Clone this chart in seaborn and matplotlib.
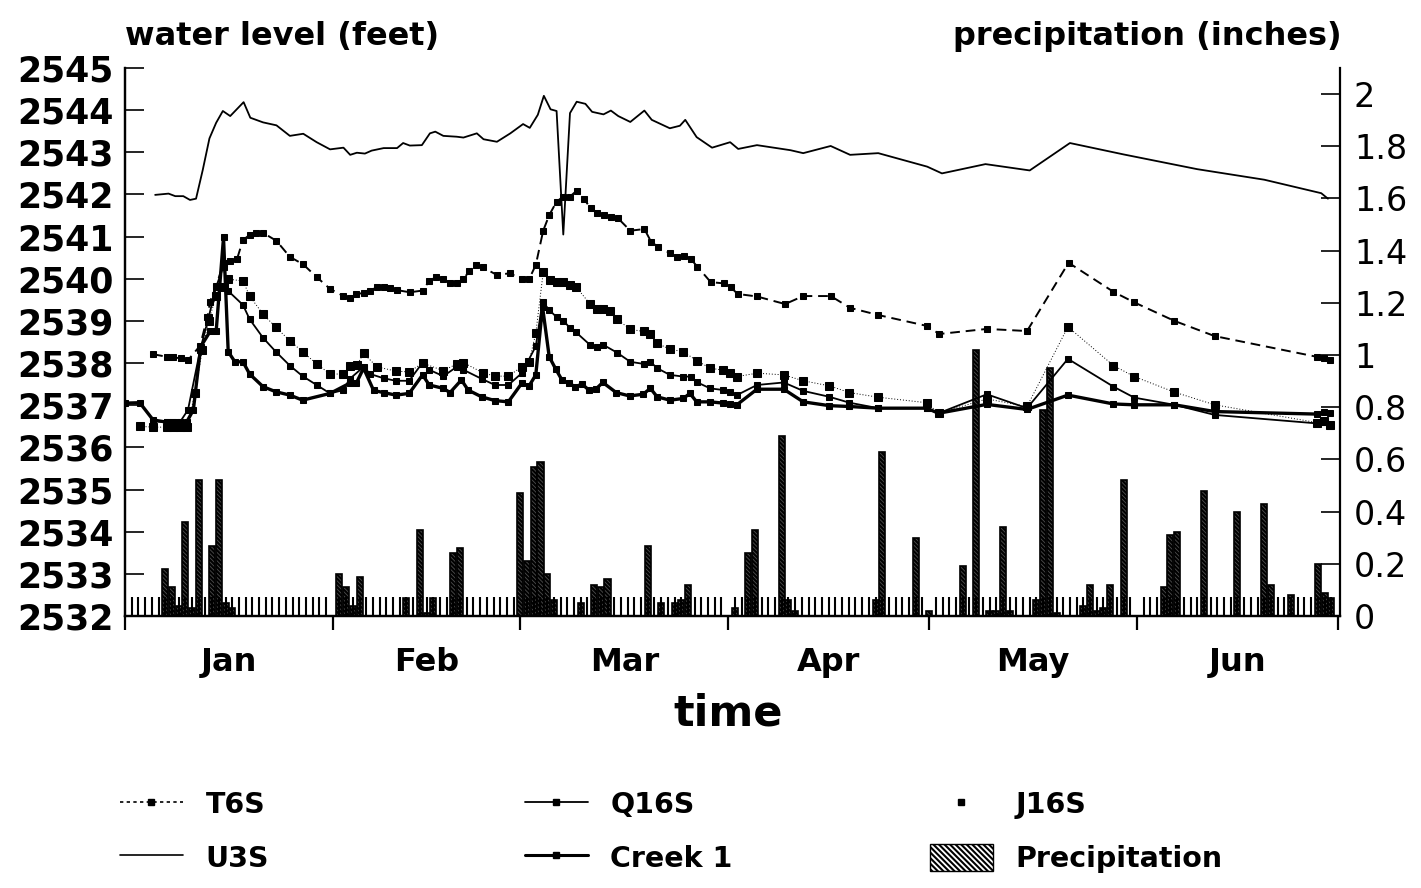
import numpy as np
import matplotlib
matplotlib.use("Agg")
import matplotlib.pyplot as plt
from matplotlib.lines import Line2D
from matplotlib.patches import Patch
import seaborn as sns

# ---------------- data (day of year, Jan 1 = 0) ----------------
u3s_day = [4.5, 6.5, 7.5, 8.7, 9.7, 10.6, 11.6, 12.6, 13.6, 14.6, 15.7, 17.7, 18.7, 20.6, 22.6,
           24.6, 26.6, 28.6, 30.6, 32.6, 33.6, 34.6, 35.8, 36.8, 38.6, 40.6, 41.5, 42.5, 44.3,
           45.5, 46.3, 47.5, 49.5, 50.5, 52.5, 53.5, 55.5, 57.5, 59.4, 60.4, 61.6, 62.5, 63.5,
           64.4, 65.4, 66.4, 67.4, 68.7, 69.7, 71.4, 72.5, 73.6, 75.4, 77.5, 78.6, 81.3, 82.8,
           83.6, 85.3, 87.6, 90.3, 91.5, 94.3, 99.3, 101.2, 105.3, 108.2, 112.4, 119.7, 121.9,
           123.1, 128.4, 135.0, 141.0, 149.0, 160.0, 170.0, 178.5, 179.5]
u3s_ft = [2541.99, 2542.02, 2541.96, 2541.96, 2541.87, 2541.90, 2542.58, 2543.33, 2543.70, 2543.98,
          2543.86, 2544.19, 2543.82, 2543.71, 2543.64, 2543.39, 2543.44, 2543.24, 2543.07, 2543.11,
          2542.94, 2542.99, 2542.97, 2543.04, 2543.10, 2543.10, 2543.22, 2543.16, 2543.17, 2543.45,
          2543.49, 2543.39, 2543.37, 2543.35, 2543.45, 2543.31, 2543.25, 2543.45, 2543.67, 2543.58,
          2543.89, 2544.34, 2544.02, 2543.98, 2541.05, 2543.93, 2544.20, 2544.15, 2543.96, 2543.90,
          2543.99, 2543.86, 2543.72, 2543.99, 2543.77, 2543.57, 2543.63, 2543.77, 2543.36, 2543.11,
          2543.24, 2543.08, 2543.17, 2543.05, 2542.98, 2543.15, 2542.94, 2542.98, 2542.66, 2542.50,
          2542.54, 2542.72, 2542.57, 2543.22, 2542.95, 2542.60, 2542.35, 2542.03, 2541.90]

t6s_day = [4.2, 6.2, 7.2, 8.3, 9.4, 11.2, 12.3, 12.7, 13.6, 14.7, 15.7, 16.7, 17.6, 18.6, 19.6,
           20.6, 22.6, 24.6, 26.6, 28.6, 30.6, 32.6, 33.5, 34.5, 35.6, 36.6, 37.6, 38.6, 39.6,
           40.6, 42.5, 44.4, 45.4, 46.4, 47.5, 48.5, 49.5, 50.5, 51.4, 52.4, 53.4, 55.5, 57.4,
           59.3, 60.3, 61.3, 62.4, 63.3, 64.4, 65.4, 66.4, 67.4, 68.5, 69.5, 70.5, 71.5, 72.5,
           73.6, 75.4, 77.5, 78.5, 79.5, 81.3, 82.4, 83.4, 84.4, 85.4, 87.4, 89.4, 90.4, 91.4,
           94.3, 98.5, 101.2, 105.3, 108.2, 112.4, 119.7, 121.5, 128.6, 134.6, 140.8, 147.5,
           150.6, 156.6, 162.6, 177.8, 178.9, 179.8]
t6s_ft = [2538.21, 2538.15, 2538.14, 2538.11, 2538.07, 2538.41, 2539.10, 2539.46, 2539.83, 2540.37,
          2540.41, 2540.46, 2540.92, 2541.04, 2541.08, 2541.09, 2540.90, 2540.52, 2540.34, 2540.04,
          2539.76, 2539.59, 2539.55, 2539.64, 2539.66, 2539.72, 2539.80, 2539.81, 2539.77, 2539.73,
          2539.68, 2539.72, 2539.95, 2540.04, 2539.99, 2539.91, 2539.89, 2539.99, 2540.19, 2540.33,
          2540.27, 2540.09, 2540.13, 2539.99, 2539.99, 2540.33, 2541.14, 2541.51, 2541.83, 2541.95,
          2541.95, 2542.09, 2541.89, 2541.67, 2541.55, 2541.51, 2541.47, 2541.43, 2541.14, 2541.18,
          2540.88, 2540.76, 2540.61, 2540.51, 2540.55, 2540.47, 2540.29, 2539.92, 2539.89, 2539.80,
          2539.64, 2539.58, 2539.40, 2539.59, 2539.59, 2539.31, 2539.14, 2538.88, 2538.69, 2538.81,
          2538.76, 2540.38, 2539.69, 2539.44, 2539.00, 2538.64, 2538.15, 2538.11, 2538.07]

j16s_day = [2.2, 4.2, 6.2, 7.2, 8.2, 9.2, 10.5, 11.5, 12.5, 13.6, 14.7, 15.4, 17.6, 18.6, 20.6,
            22.5, 24.6, 26.5, 28.6, 30.6, 32.6, 33.5, 34.6, 35.6, 37.6, 40.4, 42.4, 44.4, 47.5,
            49.5, 50.5, 53.4, 55.2, 57.2, 59.2, 60.3, 61.3, 62.4, 63.4, 64.4, 65.4, 66.4, 67.3,
            69.4, 70.4, 71.4, 72.4, 73.4, 75.4, 77.4, 78.4, 79.4, 81.3, 83.3, 85.3, 87.3, 89.3,
            90.3, 91.3, 94.3, 98.3, 101.2, 105.1, 108.1, 112.4, 119.6, 121.4, 128.6, 134.6, 140.7,
            147.5, 150.6, 156.6, 162.6, 177.8, 178.9, 179.8]
j16s_ft = [2536.50, 2536.48, 2536.48, 2536.48, 2536.48, 2536.48, 2537.30, 2538.30, 2539.00, 2539.60,
           2539.80, 2539.99, 2539.95, 2539.59, 2539.16, 2538.85, 2538.53, 2538.27, 2537.98, 2537.74,
           2537.74, 2537.93, 2537.95, 2538.23, 2537.91, 2537.81, 2537.79, 2538.00, 2537.82, 2537.98,
           2538.01, 2537.77, 2537.69, 2537.69, 2537.91, 2538.03, 2538.71, 2540.15, 2539.97, 2539.93,
           2539.93, 2539.85, 2539.81, 2539.40, 2539.28, 2539.28, 2539.24, 2539.04, 2538.80, 2538.75,
           2538.69, 2538.47, 2538.33, 2538.27, 2538.06, 2537.88, 2537.83, 2537.77, 2537.68, 2537.76,
           2537.72, 2537.58, 2537.46, 2537.30, 2537.19, 2537.06, 2536.81, 2537.15, 2536.97, 2538.86,
           2537.94, 2537.68, 2537.31, 2537.01, 2536.59, 2536.63, 2536.53]

q16s_day = [4.2, 6.2, 7.2, 8.2, 9.4, 11.2, 12.5, 13.6, 14.7, 15.4, 17.6, 18.6, 20.6, 22.5, 24.6,
            26.5, 28.6, 30.6, 32.6, 33.5, 35.6, 36.6, 38.6, 40.4, 42.4, 44.4, 45.4, 47.5, 49.5,
            50.5, 53.3, 55.2, 57.2, 59.2, 61.3, 62.3, 63.3, 64.4, 65.4, 66.4, 67.3, 69.4, 70.4,
            71.4, 73.4, 75.4, 77.4, 78.4, 79.4, 81.3, 83.3, 84.4, 85.3, 87.3, 89.3, 90.3, 91.3,
            94.3, 98.3, 101.2, 105.1, 108.1, 112.4, 119.6, 121.4, 128.6, 134.6, 140.7, 147.5,
            150.6, 156.6, 162.6, 177.8, 178.9, 179.8]
q16s_ft = [2536.62, 2536.60, 2536.60, 2536.60, 2536.89, 2538.30, 2539.10, 2539.81, 2540.29, 2539.71,
           2539.38, 2539.04, 2538.60, 2538.27, 2537.94, 2537.69, 2537.48, 2537.28, 2537.36, 2537.62,
           2537.91, 2537.74, 2537.64, 2537.58, 2537.58, 2538.01, 2537.84, 2537.69, 2537.91, 2537.84,
           2537.62, 2537.48, 2537.48, 2537.76, 2538.40, 2539.46, 2539.26, 2539.09, 2539.01, 2538.83,
           2538.73, 2538.43, 2538.38, 2538.43, 2538.25, 2538.03, 2537.98, 2538.03, 2537.88, 2537.72,
           2537.68, 2537.68, 2537.55, 2537.40, 2537.36, 2537.32, 2537.24, 2537.48, 2537.54, 2537.34,
           2537.20, 2537.06, 2536.93, 2536.93, 2536.81, 2537.26, 2536.93, 2538.10, 2537.44, 2537.18,
           2537.01, 2536.77, 2536.57, 2536.60, 2536.51]

creek_day = [0.0, 2.2, 4.2, 6.2, 7.2, 8.2, 9.2, 10.2, 11.3, 12.7, 13.6, 14.7, 15.4, 16.4, 17.6,
             18.6, 20.6, 22.5, 24.6, 26.5, 30.6, 33.5, 34.5, 35.6, 37.1, 38.6, 40.4, 42.4, 44.4,
             45.4, 47.5, 48.5, 50.2, 51.2, 53.2, 55.2, 57.2, 59.2, 60.3, 61.3, 62.3, 63.3, 64.3,
             65.2, 66.2, 67.2, 68.2, 69.3, 70.3, 71.3, 73.3, 75.3, 77.3, 78.4, 79.4, 81.3, 83.3,
             84.3, 85.3, 87.3, 89.3, 90.3, 91.3, 94.3, 98.3, 101.2, 105.1, 108.1, 112.4, 119.6,
             121.4, 128.6, 134.6, 140.7, 147.5, 150.6, 156.6, 162.6, 177.8, 178.9, 179.8]
creek_ft = [2537.05, 2537.06, 2536.65, 2536.60, 2536.60, 2536.60, 2536.60, 2536.89, 2538.39, 2538.75,
            2538.75, 2540.98, 2538.27, 2538.03, 2538.03, 2537.74, 2537.44, 2537.32, 2537.24, 2537.12,
            2537.28, 2537.52, 2537.52, 2537.88, 2537.35, 2537.30, 2537.24, 2537.28, 2537.72, 2537.48,
            2537.40, 2537.30, 2537.60, 2537.36, 2537.20, 2537.11, 2537.08, 2537.52, 2537.46, 2537.72,
            2539.34, 2538.15, 2537.85, 2537.60, 2537.52, 2537.44, 2537.50, 2537.35, 2537.39, 2537.54,
            2537.30, 2537.22, 2537.26, 2537.40, 2537.20, 2537.12, 2537.16, 2537.28, 2537.08, 2537.08,
            2537.05, 2537.03, 2537.01, 2537.38, 2537.38, 2537.08, 2536.99, 2536.97, 2536.93, 2536.93,
            2536.81, 2537.02, 2536.90, 2537.24, 2537.03, 2537.01, 2537.01, 2536.85, 2536.79, 2536.83,
            2536.81]

precip_day = [6, 7, 8, 9, 10, 11, 13, 14, 15, 16, 32, 33, 34, 35, 42, 44, 45, 46, 49, 50,
              59, 60, 61, 62, 63, 64, 68, 70, 71, 72, 78, 80, 82, 83, 84, 91, 93, 94, 98, 99,
              100, 112, 113, 118, 120, 125, 127, 129, 130, 131, 132, 136, 137, 138, 139, 143, 144,
              145, 146, 147, 149, 155, 156, 157, 161, 166, 170, 171, 174, 178, 179, 180]
precip_in = [0.18, 0.11, 0.04, 0.36, 0.03, 0.52, 0.27, 0.52, 0.05, 0.03, 0.16, 0.11, 0.04, 0.15,
             0.07, 0.33, 0.01, 0.07, 0.24, 0.26, 0.47, 0.21, 0.57, 0.59, 0.16, 0.06, 0.05, 0.12,
             0.11, 0.14, 0.27, 0.05, 0.05, 0.06, 0.12, 0.03, 0.24, 0.33, 0.69, 0.06, 0.02, 0.06,
             0.63, 0.30, 0.02, 0.19, 1.02, 0.02, 0.02, 0.34, 0.02, 0.06, 0.79, 0.95, 0.01, 0.04,
             0.12, 0.02, 0.03, 0.12, 0.52, 0.11, 0.31, 0.32, 0.48, 0.40, 0.43, 0.12, 0.08, 0.20,
             0.09, 0.07]

month_starts = [0, 31, 59, 90, 120, 151, 181]
month_names = ["Jan", "Feb", "Mar", "Apr", "May", "Jun"]
left_ticks = list(range(2532, 2546))
right_ticks = [0, 0.2, 0.4, 0.6, 0.8, 1.0, 1.2, 1.4, 1.6, 1.8, 2.0]

# ---------------- styling ----------------
sns.set_style("ticks")
plt.rcParams["font.family"] = ["DejaVu Sans"]
plt.rcParams["hatch.linewidth"] = 1.5
plt.rcParams["axes.linewidth"] = 1.6
for key in ["text.color", "axes.labelcolor", "xtick.color", "ytick.color", "axes.edgecolor"]:
    plt.rcParams[key] = "black"

fig = plt.figure(figsize=(14.21, 8.88), dpi=100)
ax = fig.add_axes([125 / 1421, 272 / 888, 1215 / 1421, 548 / 888])
ax2 = ax.twinx()
ax.set_zorder(ax2.get_zorder() + 1)
ax.patch.set_visible(False)

# precipitation bars
ax2.bar(precip_day, precip_in, width=0.9, color="0.3", edgecolor="black",
        hatch="\\\\\\\\\\\\\\\\", linewidth=1.2, zorder=2)

common = dict(ax=ax, color="black", estimator=None, sort=False, legend=False)
sns.lineplot(x=u3s_day, y=u3s_ft, lw=1.3, **common)
sns.lineplot(x=t6s_day, y=t6s_ft, lw=1.4, linestyle=(0, (5, 3)), marker="s", markersize=5,
             markeredgecolor="black", **common)
sns.lineplot(x=j16s_day, y=j16s_ft, lw=0.7, linestyle=(0, (1, 2)), marker="s", markersize=5.5,
             markeredgecolor="black", **common)
sns.lineplot(x=q16s_day, y=q16s_ft, lw=1.3, marker="s", markersize=4.5,
             markeredgecolor="black", **common)
sns.lineplot(x=creek_day, y=creek_ft, lw=2.4, marker="s", markersize=4.5,
             markeredgecolor="black", **common)

# axes limits and ticks
ax.set_xlim(0, 181.3)
ax.set_ylim(2532, 2545)
ax2.set_ylim(0, 2.1)

ax.set_xticks(month_starts)
ax.set_xticklabels([])
ax.set_xticks(np.arange(0, 182, 1), minor=True)
ax.tick_params(axis="x", which="major", direction="out", length=10, width=1.6)
ax.tick_params(axis="x", which="minor", direction="in", length=14, width=1.5)

ax.set_yticks(left_ticks)
ax.set_yticklabels([str(v) for v in left_ticks], fontsize=25, fontweight="bold")
ax.tick_params(axis="y", which="major", direction="in", length=14, width=1.2, pad=8)
ax.tick_params(axis="y", which="minor", left=False)

ax2.set_yticks(right_ticks)
ax2.set_yticklabels([f"{v:g}" for v in right_ticks], fontsize=24)
ax2.tick_params(axis="y", direction="in", length=14, width=1.2, pad=10)

for a in (ax, ax2):
    a.spines["top"].set_visible(False)
ax.spines["right"].set_visible(False)
ax.set_xlabel("")
ax.set_ylabel("")
ax2.set_ylabel("")

# month labels at mid-month
mids = [(month_starts[i] + month_starts[i + 1]) / 2 for i in range(6)]
sec = ax.secondary_xaxis("bottom")
sec.set_xticks(mids)
sec.set_xticklabels(month_names, fontsize=23, fontweight="bold")
sec.tick_params(length=0, pad=22)
sec.spines["bottom"].set_visible(False)

# titles
fig.text(125 / 1421, 1 - 37 / 888, "water level (feet)", fontsize=23, fontweight="bold",
         ha="left", va="center")
fig.text(1342 / 1421, 1 - 37 / 888, "precipitation (inches)", fontsize=23, fontweight="bold",
         ha="right", va="center")
fig.text(728 / 1421, 1 - 713 / 888, "time", fontsize=31, fontweight="bold",
         ha="center", va="center")

# legends
h_t6s = Line2D([], [], color="black", lw=1.2, linestyle=(0, (2, 2)), marker="s", markersize=4)
h_u3s = Line2D([], [], color="black", lw=1.2)
h_q16s = Line2D([], [], color="black", lw=1.3, marker="s", markersize=4)
h_creek = Line2D([], [], color="black", lw=2.2, marker="s", markersize=4)
h_j16s = Line2D([], [], color="black", lw=0, marker="s", markersize=4)
h_prec = Patch(facecolor="white", edgecolor="black", hatch="\\\\\\\\\\\\", lw=1.0)

leg_kw = dict(frameon=False, loc="upper left", prop={"size": 20.5, "weight": "bold"},
              handlelength=2.2, handletextpad=0.8, labelspacing=0.85, borderpad=0,
              borderaxespad=0, handleheight=1.1)
l1 = fig.legend([h_t6s, h_u3s], ["T6S", "U3S"], bbox_to_anchor=(120 / 1421, 1 - 790 / 888), **leg_kw)
l2 = fig.legend([h_q16s, h_creek], ["Q16S", "Creek 1"], bbox_to_anchor=(525 / 1421, 1 - 790 / 888), **leg_kw)
l3 = fig.legend([h_j16s, h_prec], ["J16S", "Precipitation"], bbox_to_anchor=(930 / 1421, 1 - 790 / 888), **leg_kw)

fig.savefig("out.png", dpi=100)
